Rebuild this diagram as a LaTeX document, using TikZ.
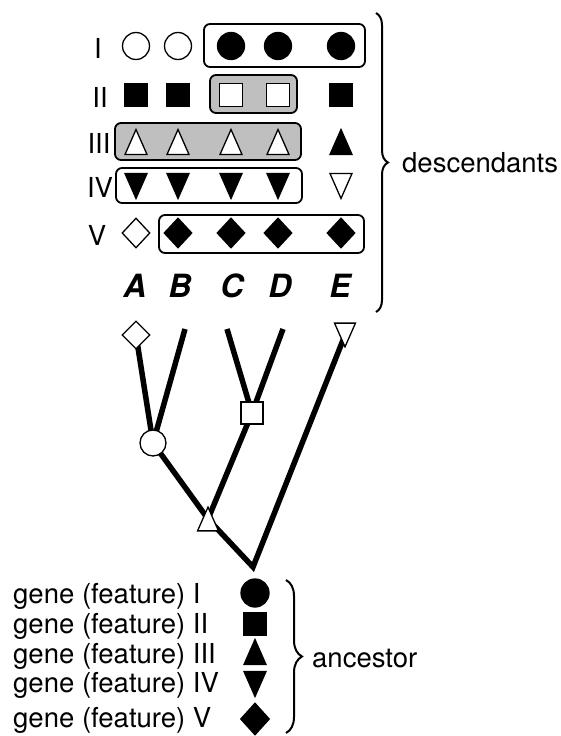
\documentclass[tikz,border=0pt]{standalone}
\usepackage{fontspec}
\setmainfont{TeX Gyre Heros}
\usetikzlibrary{shapes.geometric,decorations.pathreplacing}
\begin{document}
\begin{tikzpicture}[x=1pt,y=1pt,
 lbl/.style={font=\fontsize{27.5}{30}\selectfont, inner sep=0, anchor=base},
 col/.style={font=\fontsize{32}{34}\selectfont\bfseries\itshape, inner sep=0, anchor=base},
 sym/.style={draw, line width=1.3pt, inner sep=0},
 circ/.style={sym, circle, minimum size=27pt},
 sqr/.style={sym, rectangle, minimum size=23pt},
 dia/.style={sym, diamond, minimum width=28pt, minimum height=30pt},
 wf/.style={fill=white},
 bf/.style={fill=black},
 grp/.style={draw, line width=1.8pt, rounded corners=6pt},
 branch/.style={line width=5.5pt, line join=miter},
 brc/.style={decorate, decoration={brace, amplitude=12pt}, line width=2pt},
 tup/.pic={\path[pic actions] (0,12.5) -- (11,-12.5) -- (-11,-12.5) -- cycle;},
 tdn/.pic={\path[pic actions] (0,-12.5) -- (11,12.5) -- (-11,12.5) -- cycle;},
 tri/.style={draw, line width=1.3pt},
]
\useasboundingbox (0,0) rectangle (561,-736);

% group boxes
\draw[grp, fill=white] (204,-24) rectangle (365,-67);
\draw[grp, fill=gray!50] (210,-75) rectangle (297,-113);
\draw[grp, fill=gray!50] (115,-123) rectangle (301,-160);
\draw[grp] (116,-168) rectangle (302,-203);
\draw[grp] (159,-215) rectangle (364,-253);

% row labels
\node[lbl] (rI) at (98,-58) {I};
\node[lbl] (rII) at (100,-107) {II};
\node[lbl] (rIII) at (99,-153) {III};
\node[lbl] (rIV) at (100,-197) {IV};
\node[lbl] (rV) at (97,-245) {V};

% row I
\node[circ, wf] (a1) at (136,-46) {};
\node[circ, wf] (b1) at (178,-46) {};
\node[circ, bf] (c1) at (231,-46) {};
\node[circ, bf] (d1) at (278,-46) {};
\node[circ, bf] (e1) at (341,-46) {};
% row II
\node[sqr, bf] (a2) at (136,-95) {};
\node[sqr, bf] (b2) at (178,-95) {};
\node[sqr, wf] (c2) at (231,-95) {};
\node[sqr, wf] (d2) at (278,-95) {};
\node[sqr, bf] (e2) at (341,-95) {};
% row III
\pic[tri, fill=white] (a3) at (136,-142) {tup};
\pic[tri, fill=white] (b3) at (178,-142) {tup};
\pic[tri, fill=white] (c3) at (231,-142) {tup};
\pic[tri, fill=white] (d3) at (278,-142) {tup};
\pic[tri, fill=black] (e3) at (341,-142) {tup};
% row IV
\pic[tri, fill=black] (a4) at (136,-186) {tdn};
\pic[tri, fill=black] (b4) at (178,-186) {tdn};
\pic[tri, fill=black] (c4) at (231,-186) {tdn};
\pic[tri, fill=black] (d4) at (278,-186) {tdn};
\pic[tri, fill=white] (e4) at (341,-186) {tdn};
% row V
\node[dia, wf] (a5) at (136,-233) {};
\node[dia, bf] (b5) at (178,-233) {};
\node[dia, bf] (c5) at (231,-233) {};
\node[dia, bf] (d5) at (278,-233) {};
\node[dia, bf] (e5) at (341,-233) {};

% column letters
\node[col] (lA) at (135,-297) {A};
\node[col] (lB) at (180,-297) {B};
\node[col] (lC) at (232,-297) {C};
\node[col] (lD) at (280,-297) {D};
\node[col] (lE) at (340,-297) {E};

% descendants brace
\coordinate (dtop) at (376,-13);
\coordinate (dbot) at (376,-312);
\draw[brc] (dtop) -- (dbot);
\node[lbl, anchor=base west] (desc) at (402,-172) {descendants};

% tree
\coordinate (tA) at (136,-335);
\coordinate (tB) at (185,-329);
\coordinate (tC) at (227,-329);
\coordinate (tD) at (283,-329);
\coordinate (tE) at (345,-335);
\coordinate (n1) at (153,-443);
\coordinate (n2) at (252,-413);
\coordinate (n3) at (208,-519);
\coordinate (root) at (253,-567);
\draw[branch] (tA) -- (n1);
\draw[branch] (tB) -- (n1);
\draw[branch] (tC) -- (n2);
\draw[branch] (tD) -- (n2);
\draw[branch] (n1) -- (n3);
\draw[branch] (n2) -- (n3);
\draw[branch] (n3) -- (root) -- (tE);
\node[dia, wf, minimum width=28pt, minimum height=28pt] (sA) at (tA) {};
\node[circ, wf, minimum size=26pt] (s1) at (n1) {};
\node[sqr, wf, minimum size=22pt] (s2) at (n2) {};
\pic[tri, fill=white, scale=0.95] (s3) at (n3) {tup};
\pic[tri, fill=white, scale=0.95] (sE) at (tE) {tdn};

% ancestor legend
\node[lbl, anchor=base west] (g1) at (13,-603) {gene (feature) I};
\node[lbl, anchor=base west] (g2) at (13,-633) {gene (feature) II};
\node[lbl, anchor=base west] (g3) at (13,-663) {gene (feature) III};
\node[lbl, anchor=base west] (g4) at (13,-692) {gene (feature) IV};
\node[lbl, anchor=base west] (g5) at (13,-727) {gene (feature) V};
\node[circ, bf, minimum size=28pt] (k1) at (255,-593) {};
\node[sqr, bf] (k2) at (255,-624) {};
\pic[tri, fill=black] (k3) at (255,-652) {tup};
\pic[tri, fill=black] (k4) at (255,-684) {tdn};
\node[dia, bf, minimum width=29pt, minimum height=32pt] (k5) at (255,-719) {};

\coordinate (atop) at (286,-580);
\coordinate (abot) at (286,-733);
\draw[brc, decoration={amplitude=16pt}] (atop) -- (abot);
\node[lbl, anchor=base west] (anc) at (312,-667) {ancestor};
\end{tikzpicture}
\end{document}
